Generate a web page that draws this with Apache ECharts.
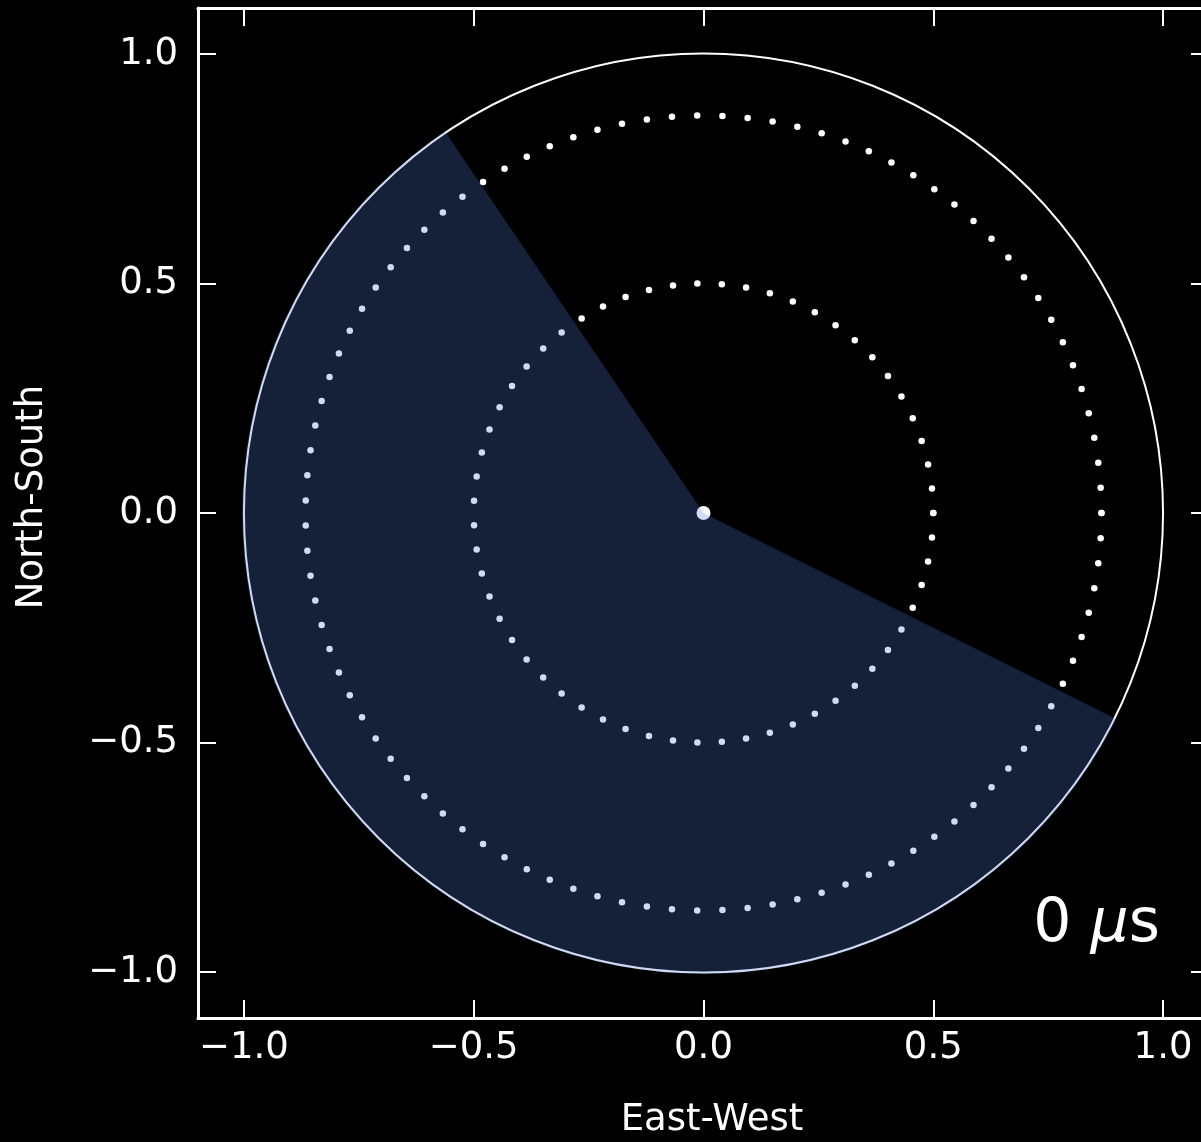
<!DOCTYPE html>
<html>
<head>
<meta charset="utf-8">
<style>
  html, body { margin: 0; padding: 0; background: #000; }
  #chart { width: 1201px; height: 1142px; }
</style>
<script src="https://cdn.jsdelivr.net/npm/echarts@6/dist/echarts.min.js"></script>
</head>
<body>
<div id="chart"></div>
<script>
// Axis ticks shared by both directions
const tickValues = [-1.0, -0.5, 0.0, 0.5, 1.0];
const axisRange = [-1.1, 1.1];

// Dotted reference rings: radius and number of dots (endpoint repeats the first dot)
const ringRadii = [0.5, 0.866];
const ringDotCounts = [60, 100];

// Unit horizon circle
const horizonRadius = 1.0;

// Shaded sector: start and end angles in degrees (counter-clockwise from East)
const sectorAngles = [124.1, 333.45];
const sectorRadius = 1.004;

// Time stamp shown in the corner
const timeLabel = ['0', 'μ', 's'];

function ringPoints(r, n) {
  const pts = [];
  for (let i = 0; i < n; i++) {
    const a = 2 * Math.PI * i / (n - 1);
    pts.push([r * Math.cos(a), r * Math.sin(a)]);
  }
  return pts;
}

const fmt = v => (v < 0 ? '\u2212' : '') + Math.abs(v).toFixed(1);
const labelFont = '"DejaVu Sans", "Open Sans", sans-serif';

const chart = echarts.init(document.getElementById('chart'), null, { renderer: 'canvas' });

function makeAxis(position, showLabel) {
  return {
    type: 'value',
    position: position,
    min: axisRange[0],
    max: axisRange[1],
    axisLine: { show: true, onZero: false, lineStyle: { color: '#fff', width: 3 } },
    axisTick: { show: true, inside: true, length: 18, customValues: tickValues, lineStyle: { color: '#fff', width: 2 } },
    axisLabel: {
      show: showLabel, customValues: tickValues, formatter: fmt,
      color: '#fff', fontSize: 37, fontFamily: labelFont,
      margin: position === 'bottom' ? 12 : 20
    },
    splitLine: { show: false }
  };
}

const ringSeries = ringRadii.map((r, i) => ({
  type: 'scatter',
  data: ringPoints(r, ringDotCounts[i]),
  symbol: 'circle',
  symbolSize: 6.5,
  itemStyle: { color: '#ffffff', opacity: 1 },
  z: 2,
  silent: true,
  animation: false
}));

const option = {
  backgroundColor: '#000',
  animation: false,
  grid: { left: 198, top: 8, width: 1011, height: 1010, containLabel: false, outerBoundsMode: 'none' },
  xAxis: [makeAxis('bottom', true), makeAxis('top', false)],
  yAxis: [makeAxis('left', true), makeAxis('right', false)],
  series: [
    {
      type: 'custom',
      coordinateSystem: 'cartesian2d',
      data: [[0, 0, horizonRadius]],
      z: 1,
      renderItem: function (params, api) {
        const c = api.coord([api.value(0), api.value(1)]);
        const r = api.size([api.value(2), 0])[0];
        return {
          type: 'circle',
          shape: { cx: c[0], cy: c[1], r: r },
          style: { fill: null, stroke: '#ffffff', lineWidth: 2 }
        };
      },
      silent: true
    },
    ...ringSeries,
    {
      type: 'scatter',
      data: [[0, 0]],
      symbol: 'circle',
      symbolSize: 14,
      itemStyle: { color: '#ffffff', opacity: 1 },
      z: 2,
      silent: true
    },
    {
      type: 'custom',
      coordinateSystem: 'cartesian2d',
      data: [[sectorAngles[0], sectorAngles[1], sectorRadius]],
      z: 5,
      renderItem: function (params, api) {
        const a0 = api.value(0) * Math.PI / 180;
        const a1 = api.value(1) * Math.PI / 180;
        const r = api.value(2);
        const pts = [api.coord([0, 0])];
        const steps = 240;
        for (let i = 0; i <= steps; i++) {
          const a = a0 + (a1 - a0) * i / steps;
          pts.push(api.coord([r * Math.cos(a), r * Math.sin(a)]));
        }
        return {
          type: 'polygon',
          shape: { points: pts },
          style: { fill: 'rgba(79,121,207,0.27)', stroke: null }
        };
      },
      silent: true
    }
  ],
  graphic: [
    {
      type: 'text',
      x: 712, y: 1120,
      style: {
        text: 'East-West', fill: '#fff', font: '37px ' + labelFont,
        align: 'center', verticalAlign: 'middle'
      }
    },
    {
      type: 'text',
      x: 32, y: 497,
      rotation: Math.PI / 2,
      style: {
        text: 'North-South', fill: '#fff', font: '37px ' + labelFont,
        align: 'center', verticalAlign: 'middle'
      }
    },
    {
      type: 'text',
      x: 1160, y: 955,
      style: {
        text: '{n|' + timeLabel[0] + ' }{m|' + timeLabel[1] + '}{n|' + timeLabel[2] + '}',
        align: 'right', verticalAlign: 'bottom',
        rich: {
          n: { fontSize: 60, fontFamily: '"DejaVu Sans", sans-serif', fill: '#fff', color: '#fff' },
          m: { fontSize: 60, fontFamily: '"DejaVu Sans", sans-serif', fontStyle: 'italic', fill: '#fff', color: '#fff' }
        }
      }
    }
  ]
};

chart.setOption(option);
</script>
</body>
</html>
